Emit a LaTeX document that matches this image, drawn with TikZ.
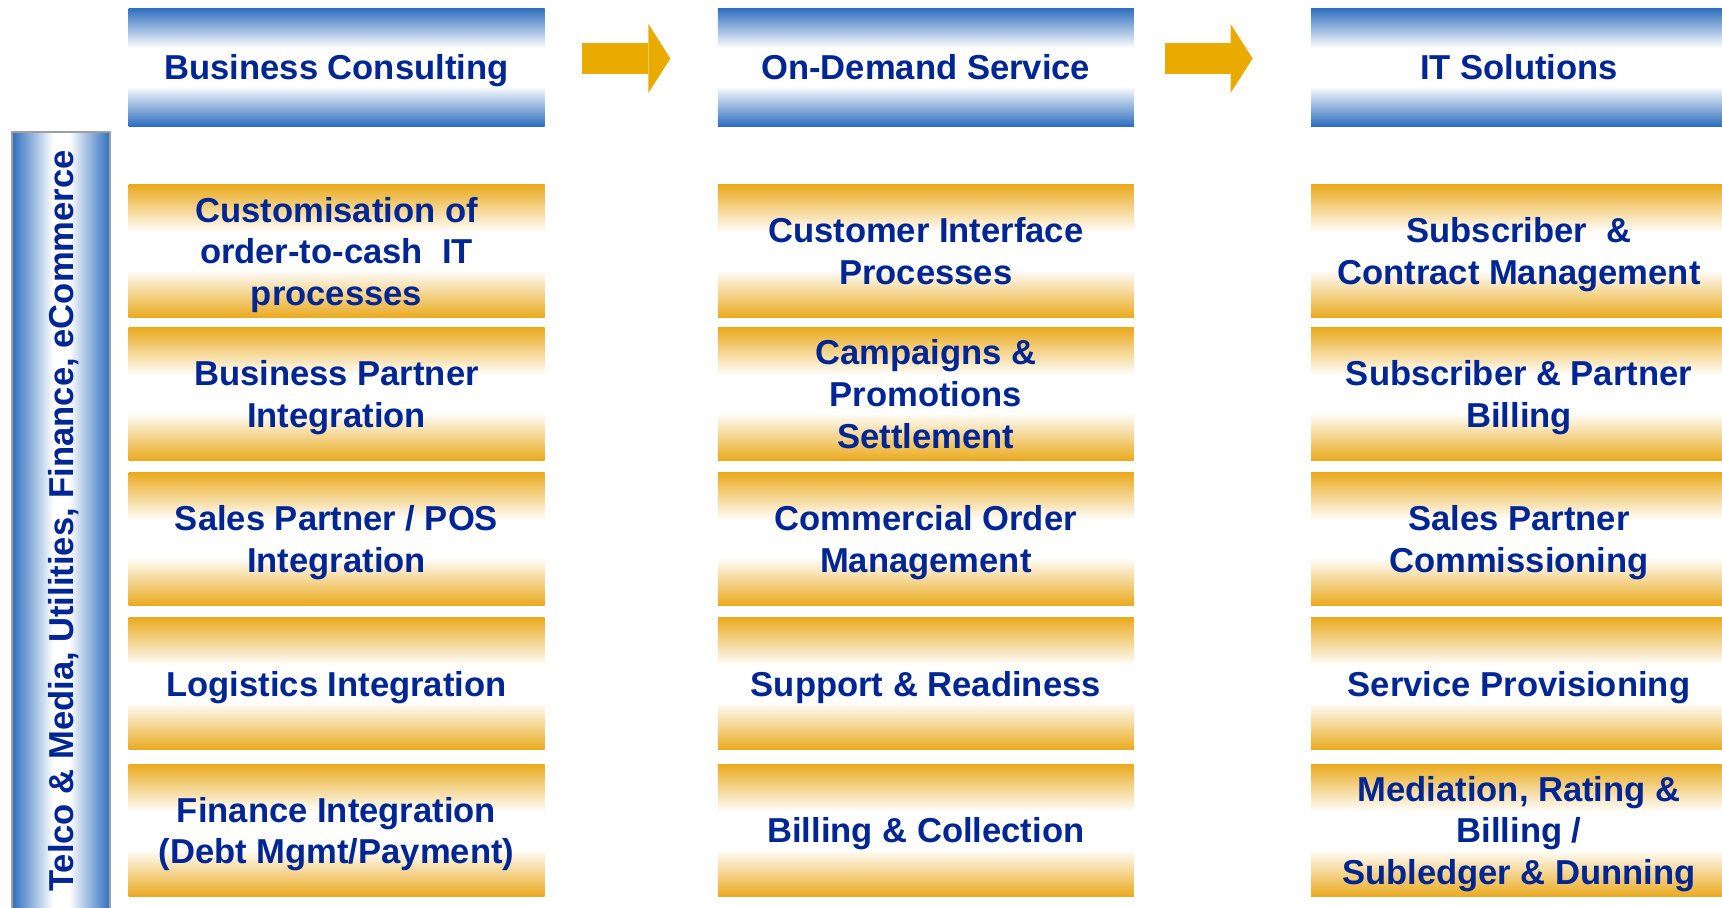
\documentclass[tikz,border=0pt]{standalone}
\usepackage{fontspec}
\setmainfont{Liberation Sans}
\usetikzlibrary{positioning, arrows.meta}
\definecolor{headblue}{RGB}{46,110,190}
\definecolor{taskgold}{RGB}{234,170,30}
\definecolor{flowgold}{RGB}{233,171,0}
\definecolor{labelnavy}{RGB}{0,38,148}
\pgfdeclareverticalshading{headshade}{100bp}{color(0bp)=(headblue); color(25bp)=(headblue); color(42bp)=(white); color(58bp)=(white); color(75bp)=(headblue); color(100bp)=(headblue)}
\pgfdeclareverticalshading{taskshade}{100bp}{color(0bp)=(taskgold); color(25bp)=(taskgold); color(43bp)=(white); color(57bp)=(white); color(75bp)=(taskgold); color(100bp)=(taskgold)}
\pgfdeclarehorizontalshading{sectorshade}{100bp}{color(0bp)=(headblue); color(25bp)=(headblue); color(46bp)=(white); color(54bp)=(white); color(75bp)=(headblue); color(100bp)=(headblue)}
\tikzset{boxtext/.style={text=labelnavy, align=center, inner sep=0pt, text depth=0pt, font=\bfseries\fontsize{17.3}{20.8}\selectfont},
  head/.style={boxtext, shade, shading=headshade, minimum width=208pt, minimum height=59pt},
  task/.style={boxtext, shade, shading=taskshade, minimum width=208pt, minimum height=66.35pt},
  flow/.style={draw=flowgold, line width=15.5pt, -{Triangle[length=11pt, width=34.5pt, line width=0pt]}}}

\begin{document}
\begin{tikzpicture}[x=0.5pt, y=-0.5pt, node distance=5.65pt]
            \useasboundingbox (0,0) rectangle (1722,907);
            \clip (0,0) rectangle (1722,907);
            \node[shade, shading=sectorshade, draw=gray!75, line width=1pt, minimum width=49pt, minimum height=395pt, inner sep=0pt] (sector_bar) at (61,527) {};
            \node[boxtext, rotate=90] (sector_label) at (61,521) {Telco \& Media, Utilities, Finance, eCommerce};
            \node[head] (business_consulting) at (336.5,67) {Business Consulting};
            \node[head] (on_demand_service) at (925.8,67) {On-Demand Service};
            \node[head] (it_solutions) at (1519,67) {IT Solutions};
            \draw[flow, shorten <=18.75pt, shorten >=23.5pt] ([yshift=4.25pt]business_consulting.east) -- ([yshift=4.25pt]on_demand_service.west);
            \draw[flow, shorten <=15.5pt, shorten >=29pt] ([yshift=4.25pt]on_demand_service.east) -- ([yshift=4.25pt]it_solutions.west);
            \node[task, below=29pt of business_consulting] (customisation) {Customisation of\\order-to-cash\ \ IT\\processes};
            \node[task, below=4.65pt of customisation] (partner_integration) {Business Partner\\Integration};
            \node[task, below=of partner_integration] (pos_integration) {Sales Partner / POS\\Integration};
            \node[task, below=of pos_integration] (logistics_integration) {Logistics Integration};
            \node[task, below=6.65pt of logistics_integration] (finance_integration) {Finance Integration\\(Debt Mgmt/Payment)};
            \node[task, below=29pt of on_demand_service] (customer_interface) {Customer Interface\\Processes};
            \node[task, below=4.65pt of customer_interface] (campaigns) {Campaigns \&\\Promotions\\Settlement};
            \node[task, below=of campaigns] (commercial_order) {Commercial Order\\Management};
            \node[task, below=of commercial_order] (support_readiness) {Support \& Readiness};
            \node[task, below=6.65pt of support_readiness] (billing_collection) {Billing \& Collection};
            \node[task, below=29pt of it_solutions] (subscriber_contract) {Subscriber\ \ \&\\Contract Management};
            \node[task, below=4.65pt of subscriber_contract] (subscriber_billing) {Subscriber \& Partner\\Billing};
            \node[task, below=of subscriber_billing] (sales_commissioning) {Sales Partner\\Commissioning};
            \node[task, below=of sales_commissioning] (service_provisioning) {Service Provisioning};
            \node[task, below=6.65pt of service_provisioning] (mediation_rating) {Mediation, Rating \&\\Billing /\\Subledger \& Dunning};
      \end{tikzpicture}
\end{document}
